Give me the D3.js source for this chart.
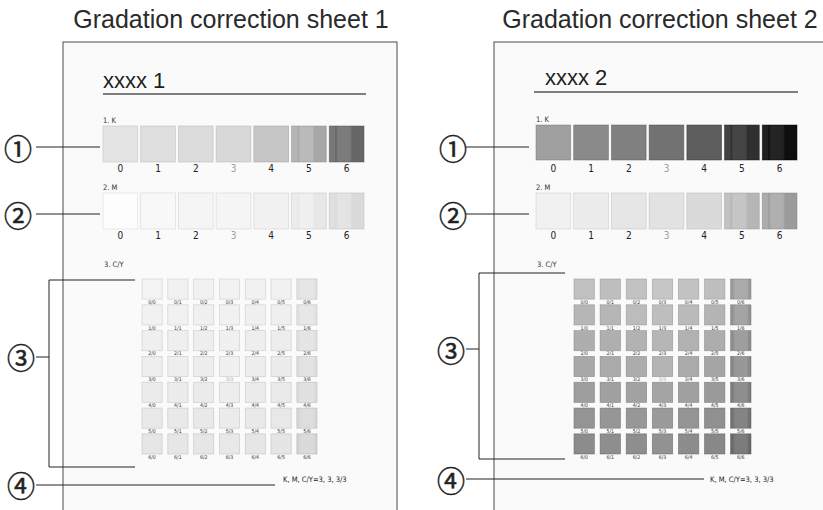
<!DOCTYPE html>
<html><head><meta charset="utf-8">
<script src="https://cdn.jsdelivr.net/npm/d3@7"></script>
<style>body{margin:0;background:#fff}svg{display:block}</style>
</head><body><svg id="c" width="823" height="510"></svg>
<script>
// ---------- data ----------
const sheetTitles = ["Gradation correction sheet 1", "Gradation correction sheet 2"];
const sheetNames = ["xxxx 1", "xxxx 2"];
const levels = ["0", "1", "2", "3", "4", "5", "6"];
const selectedLevel = "3";
const rowLabels = ["1. K", "2. M", "3. C/Y"];
const calloutLabels = ["①", "②", "③", "④"];
const resultText = "K, M, C/Y=3, 3, 3/3";
// gray value (0-255) of each printed patch
const sheet1K = [228, 223, 220, 216, 198, 182, 120];
const sheet1M = [253, 248, 245, 245, 241, 236, 224];
const sheet2K = [160, 138, 128, 114, 94, 66, 32];
const sheet2M = [241, 236, 230, 226, 218, 194, 172];
const sheet1CY = [
  [243, 241, 241, 242, 241, 241, 230],
  [241, 241, 240, 241, 240, 239, 231],
  [239, 239, 238, 240, 238, 237, 229],
  [238, 238, 237, 240, 237, 236, 227],
  [236, 236, 235, 237, 235, 234, 225],
  [233, 233, 233, 235, 233, 232, 221],
  [230, 230, 230, 232, 230, 229, 218]
];
const sheet2CY = [
  [192, 190, 194, 198, 194, 190, 170],
  [182, 182, 188, 190, 186, 180, 164],
  [174, 175, 178, 182, 177, 173, 158],
  [168, 170, 172, 180, 170, 165, 152],
  [158, 160, 162, 164, 160, 154, 142],
  [148, 150, 151, 154, 148, 144, 132],
  [140, 142, 142, 146, 140, 136, 124]
];

// ---------- drawing ----------
const svg = d3.select("#c");
const defs = svg.append("defs");
const g = v => { v = Math.max(0, Math.min(255, Math.round(v))); return d3.rgb(v, v, v).formatHex(); };
const SMALL = "'Liberation Sans Narrow','DejaVu Sans Condensed',sans-serif";
const MAIN = "'Liberation Sans',Arial,Helvetica,sans-serif";
const CIRC = "'Noto Sans CJK JP','DejaVu Sans',sans-serif";

let gradId = 0;
function stripedFill(v, kind) {
  // faint vertical banding seen in the darkest printed patches
  const id = "gr" + (gradId++);
  const lg = defs.append("linearGradient").attr("id", id).attr("x1", 0).attr("x2", 1).attr("y1", 0).attr("y2", 0);
  const d = -Math.min(18, Math.max(5, Math.round((255 - v) * 0.2)));
  const stops = kind === "edge"
    ? [[0, v + d], [0.1, v + d], [0.22, v], [0.8, v], [0.9, v + d], [1, v + d]]
    : [[0, v], [0.15, v], [0.19, v + d], [0.25, v + 4], [0.6, v + 3], [0.66, v + d], [1, v + d]];
  stops.forEach(([o, c]) => lg.append("stop").attr("offset", o).attr("stop-color", g(c)));
  return `url(#${id})`;
}

const layouts = [
  { titleX: 231, borderL: 63, borderR: 397, nameX: 103, nameY: 88, ul: [103, 366, 94],
    labelX: 103, sw: [103, 364], kTop: 126, kH: 36, kLab: 123, kNum: 172,
    mTop: 193, mH: 36, mLab: 190, mNum: 239, cyLab: [104, 267],
    gx: [142, 317], gy: [279, 454],
    cx: 18, c1: 148, l1: 147, c2: 215, l2: 214, lineX: [36, 100],
    c3x: 21, c3: 357, l3: 357, brX: 49, brY: [280, 467], brEnd: 135,
    c4: 485, l4: 485, l4End: 275, noteX: 283, noteY: 482,
    K: sheet1K, M: sheet1M, CY: sheet1CY },
  { titleX: 660, borderL: 494, borderR: 900, nameX: 545, nameY: 85, ul: [534, 798, 92],
    labelX: 536, sw: [536, 797], kTop: 125, kH: 35, kLab: 122, kNum: 172,
    mTop: 193, mH: 36, mLab: 190, mNum: 239, cyLab: [537, 267],
    gx: [574, 751], gy: [279, 454],
    cx: 453, c1: 148, l1: 147, c2: 215, l2: 214, lineX: [466, 529],
    c3x: 451, c3: 350, l3: 349, brX: 479, brY: [273, 459], brEnd: 565,
    c4: 480, l4: 479, l4End: 704, noteX: 710, noteY: 482,
    K: sheet2K, M: sheet2M, CY: sheet2CY }
];

layouts.forEach((L, si) => {
  const s = svg.append("g");
  // title
  s.append("text").attr("x", L.titleX).attr("y", 28).attr("text-anchor", "middle")
    .attr("font-family", MAIN).attr("font-size", 25).attr("fill", "#2a2a2a")
    .text(sheetTitles[si]);
  // sheet of paper
  s.append("rect").attr("x", L.borderL).attr("y", 42).attr("width", L.borderR - L.borderL).attr("height", 520)
    .attr("fill", "#fafafa").attr("stroke", "#4a4a4a").attr("stroke-width", 1);
  // name + rule
  s.append("text").attr("x", L.nameX).attr("y", L.nameY).attr("font-family", MAIN)
    .attr("font-size", 22).attr("fill", "#1e1e1e").text(sheetNames[si]);
  s.append("line").attr("x1", L.ul[0]).attr("x2", L.ul[1]).attr("y1", L.ul[2]).attr("y2", L.ul[2])
    .attr("stroke", "#555").attr("stroke-width", 1.3);

  const x = d3.scaleBand().domain(levels).range(L.sw).paddingInner(0.08);
  const swRows = [
    { vals: L.K, top: L.kTop, h: L.kH, lab: L.kLab, num: L.kNum, name: rowLabels[0] },
    { vals: L.M, top: L.mTop, h: L.mH, lab: L.mLab, num: L.mNum, name: rowLabels[1] }
  ];
  swRows.forEach(r => {
    s.append("text").attr("x", L.labelX).attr("y", r.lab).attr("font-family", SMALL)
      .attr("font-size", 7.5).attr("fill", "#333").text(r.name);
    s.selectAll(null).data(levels).join("rect")
      .attr("x", d => x(d)).attr("y", r.top).attr("width", x.bandwidth()).attr("height", r.h)
      .attr("fill", (d, i) => i >= 5 ? stripedFill(r.vals[i], "band") : g(r.vals[i]))
      .attr("stroke", (d, i) => g(r.vals[i] - 40))
      .attr("stroke-opacity", 0.6).attr("stroke-width", 0.8);
    s.selectAll(null).data(levels).join("text")
      .attr("x", d => x(d) + x.bandwidth() / 2).attr("y", r.num).attr("text-anchor", "middle")
      .attr("font-family", SMALL).attr("font-size", 10)
      .attr("fill", d => d === selectedLevel ? "#a0a0a0" : "#222").text(d => d);
  });

  // C/Y grid
  s.append("text").attr("x", L.cyLab[0]).attr("y", L.cyLab[1]).attr("font-family", SMALL)
    .attr("font-size", 7.5).attr("fill", "#333").text(rowLabels[2]);
  const gx = d3.scaleBand().domain(levels).range(L.gx).paddingInner(0.22);
  const gy = d3.scaleBand().domain(levels).range(L.gy).paddingInner(0.22);
  const cells = [];
  levels.forEach((r, ri) => levels.forEach((c, ci) => cells.push({ r, c, v: L.CY[ri][ci] })));
  s.selectAll(null).data(cells).join("rect")
    .attr("x", d => gx(d.c)).attr("y", d => gy(d.r))
    .attr("width", gx.bandwidth()).attr("height", gy.bandwidth())
    .attr("fill", d => d.c === "6" ? stripedFill(d.v, "edge") : g(d.v))
    .attr("stroke", d => g(d.v - 45)).attr("stroke-opacity", 0.7).attr("stroke-width", 0.7);
  s.selectAll(null).data(cells).join("text")
    .attr("x", d => gx(d.c) + gx.bandwidth() / 2).attr("y", d => gy(d.r) + gy.bandwidth() + 4.6)
    .attr("text-anchor", "middle").attr("font-family", SMALL).attr("font-size", 5.2)
    .attr("fill", d => d.r === selectedLevel && d.c === selectedLevel ? "#aaa" : "#333")
    .text(d => d.r + "/" + d.c);

  // callouts
  const lineAttrs = sel => sel.attr("stroke", "#222").attr("stroke-width", 1).attr("fill", "none");
  s.append("line").attr("x1", L.lineX[0]).attr("x2", L.lineX[1]).attr("y1", L.l1).attr("y2", L.l1).call(lineAttrs);
  s.append("line").attr("x1", L.lineX[0]).attr("x2", L.lineX[1]).attr("y1", L.l2).attr("y2", L.l2).call(lineAttrs);
  s.append("line").attr("x1", L.lineX[0]).attr("x2", L.brX).attr("y1", L.l3).attr("y2", L.l3).call(lineAttrs);
  s.append("path").attr("d", `M${L.brEnd},${L.brY[0]}H${L.brX}V${L.brY[1]}H${L.brEnd}`).call(lineAttrs);
  s.append("line").attr("x1", L.lineX[0]).attr("x2", L.l4End).attr("y1", L.l4).attr("y2", L.l4).call(lineAttrs);
  s.append("text").attr("x", L.noteX).attr("y", L.noteY).attr("font-family", SMALL)
    .attr("font-size", 7.5).attr("fill", "#222").text(resultText);
  const circ = [[L.cx, L.c1], [L.cx, L.c2], [L.c3x, L.c3], [L.c3x, L.c4]];
  s.selectAll(null).data(calloutLabels).join("text")
    .attr("x", (d, i) => circ[i][0]).attr("y", (d, i) => circ[i][1])
    .attr("text-anchor", "middle").attr("dominant-baseline", "central")
    .attr("font-family", CIRC).attr("font-size", 28).attr("fill", "#222")
    .attr("stroke", "#222").attr("stroke-width", 0.5).text(d => d);
});
</script></body></html>
